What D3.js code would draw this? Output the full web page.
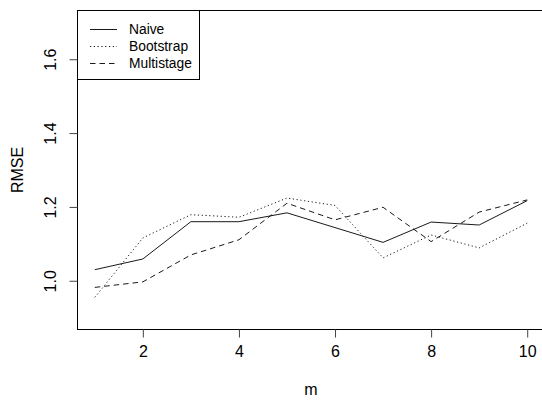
<!DOCTYPE html>
<html>
<head>
<meta charset="utf-8">
<script src="https://cdn.jsdelivr.net/npm/d3@7"></script>
<style>
  html, body { margin: 0; padding: 0; background: #fff; }
  svg { display: block; font-family: "Liberation Sans", Arial, sans-serif; }
</style>
</head>
<body>
<svg id="chart" width="542" height="401"></svg>
<script>
// RMSE by m for three estimators
const mValues = [1, 2, 3, 4, 5, 6, 7, 8, 9, 10];
const naive = [1.030, 1.059, 1.160, 1.160, 1.184, 1.144, 1.104, 1.159, 1.151, 1.217];
const bootstrap = [0.955, 1.116, 1.179, 1.172, 1.224, 1.204, 1.062, 1.124, 1.089, 1.156];
const multistage = [0.982, 0.997, 1.070, 1.111, 1.210, 1.165, 1.199, 1.106, 1.186, 1.219];
const xTicks = [2, 4, 6, 8, 10];
const yTicks = [1.0, 1.2, 1.4, 1.6];
const seriesNames = ["Naive", "Bootstrap", "Multistage"];
const dashes = [null, "1.2,2.6", "5.5,4"];

const svg = d3.select("#chart");
const box = { left: 77.5, top: 10.5, right: 544.5, bottom: 329.5 };
const fontSize = 16;

// R-style axis limits (4% padding around the data/limit range)
const xPad = (10 - 1) * 0.04;
const yLo = 0.9, yHi = 1.7, yPad = (yHi - yLo) * 0.04;
const x = d3.scaleLinear().domain([1 - xPad, 10 + xPad]).range([box.left, box.right]);
const y = d3.scaleLinear().domain([yLo - yPad, yHi + yPad]).range([box.bottom, box.top]);

const series = [naive, bootstrap, multistage];
const line = d3.line().x((d, i) => x(mValues[i])).y(d => y(d));

series.forEach((vals, k) => {
  svg.append("path")
    .datum(vals)
    .attr("d", line)
    .attr("fill", "none")
    .attr("stroke", "#1a1a1a")
    .attr("stroke-width", 1)
    .attr("stroke-dasharray", dashes[k]);
});

// plot frame
svg.append("rect")
  .attr("x", box.left).attr("y", box.top)
  .attr("width", box.right - box.left).attr("height", box.bottom - box.top)
  .attr("fill", "none").attr("stroke", "#000").attr("stroke-width", 1);

// x axis
const xAxis = svg.append("g").attr("transform", `translate(0,${box.bottom})`)
  .call(d3.axisBottom(x).tickValues(xTicks).tickSize(8).tickPadding(8).tickFormat(d3.format("d")));
xAxis.select(".domain").remove();
xAxis.selectAll("line").attr("stroke", "#444");
xAxis.selectAll("text").attr("font-size", fontSize).attr("fill", "#000")
  .attr("font-family", "Liberation Sans, Arial, sans-serif");

// y axis with labels rotated parallel to the axis
const yAxis = svg.append("g").attr("transform", `translate(${box.left},0)`)
  .call(d3.axisLeft(y).tickValues(yTicks).tickSize(8).tickFormat(d3.format(".1f")));
yAxis.select(".domain").remove();
yAxis.selectAll("line").attr("stroke", "#444");
yAxis.selectAll("text")
  .attr("font-size", fontSize).attr("fill", "#000")
  .attr("font-family", "Liberation Sans, Arial, sans-serif")
  .attr("x", null)
  .attr("text-anchor", "middle")
  .attr("transform", "translate(-27.5,0) rotate(-90)")
  .attr("dy", "0.35em");

// axis titles
svg.append("text").attr("x", (box.left + box.right) / 2).attr("y", 395)
  .attr("text-anchor", "middle").attr("font-size", fontSize).text("m");
svg.append("text")
  .attr("transform", `translate(23,${(box.top + box.bottom) / 2}) rotate(-90)`)
  .attr("text-anchor", "middle").attr("font-size", fontSize).text("RMSE");

// legend
const legend = svg.append("g");
legend.append("rect").attr("x", box.left).attr("y", box.top)
  .attr("width", 122).attr("height", 69)
  .attr("fill", "#fff").attr("stroke", "#000").attr("stroke-width", 1);
seriesNames.forEach((name, k) => {
  const ly = 29.5 + k * 17;
  legend.append("line").attr("x1", 90).attr("x2", 117).attr("y1", ly).attr("y2", ly)
    .attr("stroke", "#1a1a1a").attr("stroke-width", 1).attr("stroke-dasharray", dashes[k]);
  legend.append("text").attr("x", 129).attr("y", ly).attr("dy", "0.35em")
    .attr("font-size", 13.8).text(name);
});
</script>
</body>
</html>
